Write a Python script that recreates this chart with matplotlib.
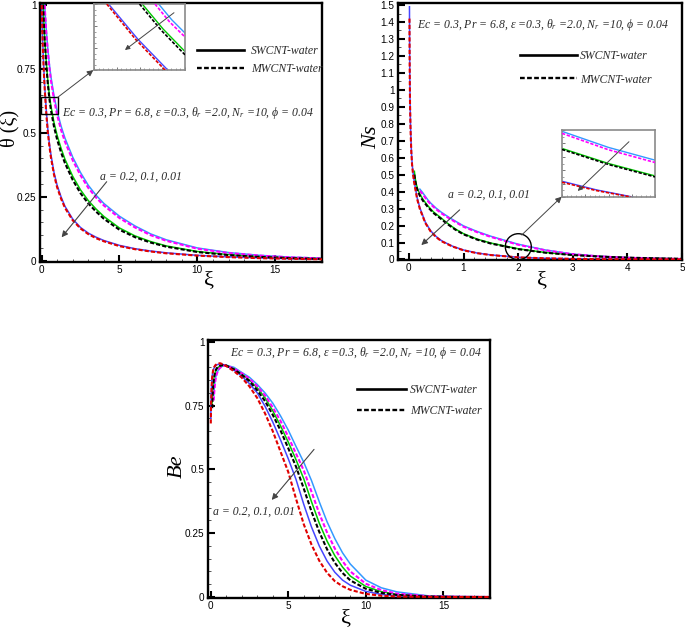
import matplotlib
matplotlib.use('Agg')
import matplotlib.pyplot as plt
from matplotlib.ticker import MultipleLocator, FuncFormatter
from matplotlib.lines import Line2D
from matplotlib.patches import Rectangle, Ellipse
from matplotlib.font_manager import FontProperties

plt.rcParams['font.family'] = ['Liberation Sans', 'DejaVu Sans']
plt.rcParams['mathtext.fontset'] = 'custom'
plt.rcParams['mathtext.rm'] = 'Liberation Serif'
plt.rcParams['mathtext.it'] = 'Liberation Serif:italic'
SERIF = ['Liberation Serif', 'DejaVu Serif']

# ---------------- colours / series names ----------------
series = ['a=0.2 SWCNT', 'a=0.2 MWCNT', 'a=0.1 SWCNT', 'a=0.1 MWCNT', 'a=0.01 SWCNT', 'a=0.01 MWCNT']
colors = ['#3399ff', '#ff00ff', '#00c800', '#000000', '#4646ff', '#e00000']
dashed = [False, True, False, True, False, True]

# ---------------- theta(xi) ----------------
th_grid = [0.3, 0.4, 0.5, 0.6, 0.8, 1.0, 1.25, 1.5, 2, 2.5, 3, 3.5, 4, 5, 6, 7, 8, 10, 12, 14, 16, 18]
th_xi_a02 = [0.2, 0.25] + th_grid
th_xi_a01 = [0.1, 0.15, 0.2] + th_grid
th_xi_a001 = [0.01, 0.05, 0.1, 0.15, 0.2] + th_grid
th_sw_a02 = [1.0, 0.95, 0.905, 0.83, 0.77, 0.72, 0.645, 0.585, 0.527, 0.48, 0.405, 0.345, 0.295, 0.256,
             0.224, 0.174, 0.136, 0.105, 0.082, 0.05, 0.032, 0.021, 0.014, 0.01]
th_mw_a02 = [1.0, 0.945, 0.895, 0.818, 0.757, 0.706, 0.63, 0.57, 0.512, 0.466, 0.393, 0.334, 0.285, 0.247,
             0.216, 0.167, 0.13, 0.1, 0.078, 0.047, 0.03, 0.02, 0.013, 0.009]
th_sw_a01 = [1.0, 0.93, 0.87, 0.78, 0.705, 0.648, 0.605, 0.54, 0.49, 0.44, 0.397, 0.33, 0.277, 0.235, 0.202,
             0.173, 0.128, 0.097, 0.075, 0.058, 0.036, 0.024, 0.016, 0.011, 0.008]
th_mw_a01 = [1.0, 0.925, 0.862, 0.77, 0.693, 0.635, 0.59, 0.524, 0.474, 0.424, 0.382, 0.316, 0.264, 0.224,
             0.192, 0.164, 0.121, 0.092, 0.071, 0.055, 0.034, 0.022, 0.015, 0.01, 0.007]
th_sw_a001 = [1.0, 0.9, 0.815, 0.745, 0.685, 0.59, 0.515, 0.46, 0.415, 0.345, 0.295, 0.25, 0.213, 0.163,
              0.13, 0.108, 0.092, 0.079, 0.06, 0.047, 0.038, 0.031, 0.021, 0.015, 0.011, 0.008, 0.006]
th_mw_a001 = [1.0, 0.892, 0.803, 0.733, 0.673, 0.578, 0.503, 0.449, 0.405, 0.336, 0.287, 0.243, 0.207, 0.158,
              0.126, 0.104, 0.088, 0.076, 0.057, 0.045, 0.036, 0.029, 0.02, 0.014, 0.01, 0.0075, 0.0055]

# theta inset (zoomed view)
thi_xi_a02s = [0.542, 0.571, 0.600]; thi_a02s = [0.640, 0.6256, 0.6136]
thi_xi_a02m = [0.534, 0.566, 0.600]; thi_a02m = [0.640, 0.6238, 0.610]
thi_xi_a01s = [0.506, 0.552, 0.600]; thi_a01s = [0.640, 0.6172, 0.5968]
thi_xi_a01m = [0.500, 0.548, 0.600]; thi_a01m = [0.640, 0.616, 0.5938]
thi_xi_a001s = [0.432, 0.496, 0.562]; thi_a001s = [0.640, 0.6082, 0.580]
thi_xi_a001m = [0.428, 0.492, 0.556]; thi_a001m = [0.640, 0.6076, 0.580]

# ---------------- Ns ----------------
ns_xi_a02 = [0.2, 0.25, 0.3, 0.35, 0.4, 0.5, 0.6, 0.75, 1.0, 1.25, 1.5, 2.0, 2.5, 3.0, 3.5, 4.0, 4.5, 5.0]
ns_sw_a02 = [0.415, 0.395, 0.372, 0.35, 0.332, 0.302, 0.277, 0.245, 0.198, 0.165, 0.137, 0.09, 0.056, 0.032,
             0.019, 0.011, 0.006, 0.003]
ns_mw_a02 = [0.405, 0.386, 0.364, 0.343, 0.325, 0.296, 0.271, 0.24, 0.193, 0.161, 0.133, 0.087, 0.054, 0.031,
             0.018, 0.01, 0.006, 0.003]
ns_xi_a01 = [0.1, 0.11, 0.13, 0.16, 0.2, 0.26, 0.35, 0.45, 0.57, 0.7, 0.85, 1.0, 1.25, 1.5, 2.0, 2.5, 3.0,
             3.5, 4.0, 4.5, 5.0]
ns_sw_a01 = [0.52, 0.49, 0.45, 0.415, 0.385, 0.353, 0.315, 0.28, 0.25, 0.215, 0.18, 0.152, 0.12, 0.097,
             0.063, 0.041, 0.027, 0.018, 0.011, 0.007, 0.004]
ns_mw_a01 = [0.50, 0.475, 0.44, 0.405, 0.376, 0.345, 0.308, 0.274, 0.244, 0.21, 0.176, 0.148, 0.117, 0.094,
             0.061, 0.04, 0.026, 0.017, 0.011, 0.007, 0.004]
ns_xi_a001 = [0.01, 0.012, 0.015, 0.02, 0.03, 0.045, 0.06, 0.08, 0.1, 0.15, 0.2, 0.3, 0.4, 0.5, 0.6, 0.8,
              1.0, 1.25, 1.5, 2.0, 2.5, 3.0, 3.5, 4.0, 4.5, 5.0]
ns_sw_a001 = [1.49, 1.3, 1.12, 0.95, 0.78, 0.64, 0.56, 0.5, 0.455, 0.365, 0.305, 0.22, 0.168, 0.135, 0.11,
              0.078, 0.056, 0.038, 0.027, 0.013, 0.007, 0.004, 0.002, 0.001, 0.0005, 0.0002]
ns_mw_a001 = [1.42, 1.25, 1.08, 0.92, 0.76, 0.625, 0.548, 0.49, 0.445, 0.357, 0.298, 0.215, 0.164, 0.131,
              0.107, 0.076, 0.054, 0.037, 0.026, 0.0125, 0.0068, 0.0038, 0.002, 0.001, 0.0005, 0.0002]

# Ns inset (zoomed view)
nsi_xi = [1.8, 2.0, 2.2]
nsi_a02s = [0.098, 0.074, 0.055]
nsi_a02m = [0.095, 0.0705, 0.0515]
nsi_a01s = [0.0725, 0.050, 0.0315]
nsi_a01m = [0.071, 0.0485, 0.030]
nsi_xi_a001s = [1.8, 1.95, 2.104]; nsi_a001s = [0.0235, 0.0105, 0.0]
nsi_xi_a001m = [1.8, 1.945, 2.096]; nsi_a001m = [0.022, 0.0098, 0.0]

# ---------------- Be ----------------
be_grid = [1.0, 1.5, 2, 2.5, 3, 3.5, 4, 4.5, 5, 5.5, 6, 6.5, 7, 7.5, 8, 8.5, 9, 10, 11, 12, 14, 16, 18]
be_xi_a02 = [0.2, 0.23, 0.27, 0.32, 0.4, 0.5, 0.6, 0.8] + be_grid
be_xi_a01 = [0.1, 0.13, 0.17, 0.22, 0.3, 0.4, 0.6, 0.8] + be_grid
be_xi_a001 = [0.01, 0.03, 0.06, 0.1, 0.15, 0.2, 0.3, 0.4, 0.6, 0.8] + be_grid
be_sw_a02 = [0.79, 0.815, 0.84, 0.86, 0.878, 0.89, 0.898, 0.906,
             0.908, 0.9, 0.88, 0.861, 0.833, 0.80, 0.76, 0.71, 0.654, 0.59, 0.528, 0.456, 0.373, 0.295,
             0.229, 0.173, 0.129, 0.066, 0.036, 0.02, 0.0047, 0.0015, 0.0004]
be_mw_a02 = [0.77, 0.80, 0.83, 0.855, 0.875, 0.89, 0.898, 0.906,
             0.907, 0.895, 0.877, 0.855, 0.826, 0.79, 0.743, 0.69, 0.628, 0.562, 0.496, 0.412, 0.327, 0.253,
             0.19, 0.14, 0.1, 0.052, 0.027, 0.013, 0.003, 0.001, 0.0002]
be_sw_a01 = [0.76, 0.80, 0.835, 0.86, 0.882, 0.895, 0.905, 0.908,
             0.908, 0.894, 0.874, 0.85, 0.82, 0.781, 0.73, 0.671, 0.607, 0.538, 0.463, 0.373, 0.289, 0.219,
             0.162, 0.117, 0.082, 0.041, 0.021, 0.01, 0.002, 0.0006, 0.0001]
be_mw_a01 = [0.74, 0.79, 0.83, 0.86, 0.885, 0.897, 0.906, 0.909,
             0.907, 0.892, 0.871, 0.846, 0.81, 0.768, 0.714, 0.653, 0.583, 0.511, 0.425, 0.335, 0.255, 0.187,
             0.134, 0.094, 0.065, 0.032, 0.016, 0.008, 0.0017, 0.0004, 0.0001]
be_sw_a001 = [0.70, 0.77, 0.83, 0.865, 0.885, 0.895, 0.905, 0.91, 0.913, 0.911,
              0.906, 0.889, 0.866, 0.836, 0.80, 0.748, 0.686, 0.616, 0.542, 0.461, 0.363, 0.274, 0.20,
              0.141, 0.097, 0.066, 0.046, 0.022, 0.01, 0.0045, 0.001, 0.0002, 0.0]
be_mw_a001 = [0.68, 0.76, 0.82, 0.86, 0.885, 0.898, 0.908, 0.913, 0.916, 0.912,
              0.905, 0.885, 0.86, 0.825, 0.78, 0.72, 0.65, 0.57, 0.49, 0.385, 0.285, 0.205, 0.142,
              0.095, 0.062, 0.042, 0.028, 0.012, 0.005, 0.002, 0.0005, 0.0001, 0.0]

param_text = 'Ec = 0.3, Pr = 6.8, \u03b5 =0.3, \u03b8$_r$ =2.0, N$_r$ =10, \u03d5 = 0.04'
a_text = 'a = 0.2, 0.1, 0.01'
legend_labels = ['SWCNT-water', 'MWCNT-water']

# ---------------- helpers ----------------
fmt = FuncFormatter(lambda v, p: f'{v:g}')
itfont = FontProperties(family=SERIF, style='italic', size=8.5)
TXT = '#2a2a2a'


def style_axes(ax, xmaj, xmin, ymaj, ymin):
    for s in ax.spines.values():
        s.set_linewidth(1.7)
    ax.xaxis.set_major_locator(MultipleLocator(xmaj))
    ax.xaxis.set_minor_locator(MultipleLocator(xmin))
    ax.yaxis.set_major_locator(MultipleLocator(ymaj))
    ax.yaxis.set_minor_locator(MultipleLocator(ymin))
    ax.xaxis.set_major_formatter(fmt)
    ax.yaxis.set_major_formatter(fmt)
    ax.tick_params(which='both', direction='in', top=False, right=False, labelsize=7.2, pad=2.5)
    ax.tick_params(which='major', length=5, width=1.5)
    ax.tick_params(which='minor', length=2.5, width=0.7, color='#555555')


def draw_curves(ax, xs, ys, lw_s=1.1, lw_d=1.5):
    order = [0, 2, 4, 1, 3, 5]
    for i in order:
        if dashed[i]:
            ax.plot(xs[i], ys[i], color=colors[i], lw=lw_d, ls=(0, (2, 1)), zorder=3)
        else:
            ax.plot(xs[i], ys[i], color=colors[i], lw=lw_s, ls='-', zorder=2)


def add_legend(ax, x, y, hlen, tpad, lspace):
    h_sw = Line2D([], [], color='k', lw=1.9, ls='-')
    h_mw = Line2D([], [], color='k', lw=1.7, ls=(0, (2, 1)))
    leg = ax.legend([h_sw, h_mw], legend_labels, loc='upper left', bbox_to_anchor=(x, y),
                    frameon=False, borderpad=0, borderaxespad=0, handlelength=hlen,
                    handletextpad=tpad, labelspacing=lspace, prop=itfont)
    for t in leg.get_texts():
        t.set_color(TXT)


def arrow(ax, tail, head, lw=0.8, ms=9, color='#444444'):
    ax.annotate('', xy=head, xytext=tail, xycoords='axes fraction', textcoords='axes fraction',
                arrowprops=dict(arrowstyle='-|>', color=color, lw=lw, mutation_scale=ms,
                                shrinkA=0, shrinkB=0), zorder=6)


def style_inset(ax):
    for s in ax.spines.values():
        s.set_linewidth(1.2)
        s.set_color('#8a8a8a')
    ax.tick_params(which='both', direction='in', top=False, right=False, color='#777777',
                   labelbottom=False, labelleft=False)
    ax.tick_params(which='major', length=2.5, width=0.7)
    ax.tick_params(which='minor', length=1.5, width=0.5)
    ax.set_facecolor('white')


W, H = 685, 630
fig = plt.figure(figsize=(6.85, 6.3), dpi=100)


def axes_px(l, t, r, b):
    return fig.add_axes([l / W, 1 - b / H, (r - l) / W, (b - t) / H])


# ================= Panel 1: theta =================
ax1 = axes_px(40, 3, 322, 262)
draw_curves(ax1, [th_xi_a02, th_xi_a02, th_xi_a01, th_xi_a01, th_xi_a001, th_xi_a001],
            [th_sw_a02, th_mw_a02, th_sw_a01, th_mw_a01, th_sw_a001, th_mw_a001])
ax1.set_xlim(-0.1, 18)
ax1.set_ylim(-0.005, 1.008)
style_axes(ax1, 5, 1, 0.25, 0.05)
ax1.text(-0.108, 0.517, '\u03b8 (\u03be)', transform=ax1.transAxes, rotation=90, ha='center',
         va='center', family=SERIF, fontsize=14.5)
ax1.text(0.60, -0.073, '\u03be', transform=ax1.transAxes, ha='center', va='center', family=SERIF,
         fontsize=16)
ax1.text(0.078, 0.575, param_text, transform=ax1.transAxes, ha='left', va='center',
         fontproperties=itfont, color=TXT)
ax1.text(0.213, 0.329, a_text, transform=ax1.transAxes, ha='left', va='center',
         fontproperties=itfont, color=TXT)
arrow(ax1, (0.2365, 0.31), (0.0766, 0.0954))
add_legend(ax1, 0.557, 0.838, 4.0, 0.55, 0.55)
ax1.add_patch(Rectangle((0.0035, 0.571), 0.0595, 0.065, transform=ax1.transAxes, fill=False,
                        ec='k', lw=1.0, zorder=6))
arrow(ax1, (0.063, 0.636), (0.189, 0.741), lw=0.7, ms=9)

ins1 = axes_px(94, 4, 185, 70)
draw_curves(ins1, [thi_xi_a02s, thi_xi_a02m, thi_xi_a01s, thi_xi_a01m, thi_xi_a001s, thi_xi_a001m],
            [thi_a02s, thi_a02m, thi_a01s, thi_a01m, thi_a001s, thi_a001m], lw_s=1.0, lw_d=1.2)
ins1.set_xlim(0.4, 0.6)
ins1.set_ylim(0.58, 0.64)
ins1.xaxis.set_major_locator(MultipleLocator(0.05))
ins1.xaxis.set_minor_locator(MultipleLocator(0.01))
ins1.yaxis.set_major_locator(MultipleLocator(0.02))
ins1.yaxis.set_minor_locator(MultipleLocator(0.005))
style_inset(ins1)
arrow(ins1, (0.879, 0.868), (0.34, 0.303), lw=0.7, ms=7)

# ================= Panel 2: Ns =================
ax2 = axes_px(398, 3, 682, 260)
draw_curves(ax2, [ns_xi_a02, ns_xi_a02, ns_xi_a01, ns_xi_a01, ns_xi_a001, ns_xi_a001],
            [ns_sw_a02, ns_mw_a02, ns_sw_a01, ns_mw_a01, ns_sw_a001, ns_mw_a001])
ax2.set_xlim(-0.2, 5)
ax2.set_ylim(-0.003, 1.512)
style_axes(ax2, 1, 0.2, 0.1, 0.05)
ax2.text(-0.093, 0.479, 'Ns', transform=ax2.transAxes, rotation=90, ha='center', va='center',
         family=SERIF, style='italic', fontsize=16)
ax2.text(0.506, -0.078, '\u03be', transform=ax2.transAxes, ha='center', va='center', family=SERIF,
         fontsize=16)
ax2.text(0.067, 0.914, param_text, transform=ax2.transAxes, ha='left', va='center',
         fontproperties=itfont, color=TXT)
ax2.text(0.176, 0.253, a_text, transform=ax2.transAxes, ha='left', va='center',
         fontproperties=itfont, color=TXT)
arrow(ax2, (0.217, 0.195), (0.082, 0.058))
add_legend(ax2, 0.43, 0.818, 4.8, 0.25, 1.0)
ax2.add_patch(Ellipse((0.4236, 0.0518), 0.0915, 0.101, transform=ax2.transAxes, fill=False,
                      ec='k', lw=1.0, zorder=6))
arrow(ax2, (0.4356, 0.0973), (0.5764, 0.2463), lw=0.7, ms=9)

ins2 = axes_px(562, 130, 655, 197)
draw_curves(ins2, [nsi_xi, nsi_xi, nsi_xi, nsi_xi, nsi_xi_a001s, nsi_xi_a001m],
            [nsi_a02s, nsi_a02m, nsi_a01s, nsi_a01m, nsi_a001s, nsi_a001m], lw_s=1.0, lw_d=1.2)
ins2.set_xlim(1.8, 2.2)
ins2.set_ylim(0.0, 0.1)
ins2.xaxis.set_major_locator(MultipleLocator(0.1))
ins2.xaxis.set_minor_locator(MultipleLocator(0.02))
ins2.yaxis.set_major_locator(MultipleLocator(0.02))
ins2.yaxis.set_minor_locator(MultipleLocator(0.01))
style_inset(ins2)
arrow(ins2, (0.72, 0.825), (0.169, 0.09), lw=0.7, ms=7)

# ================= Panel 3: Be =================
ax3 = axes_px(208, 340, 490, 598)
draw_curves(ax3, [be_xi_a02, be_xi_a02, be_xi_a01, be_xi_a01, be_xi_a001, be_xi_a001],
            [be_sw_a02, be_mw_a02, be_sw_a01, be_mw_a01, be_sw_a001, be_mw_a001])
ax3.set_xlim(-0.17, 18)
ax3.set_ylim(-0.004, 1.007)
style_axes(ax3, 5, 1, 0.25, 0.05)
ax3.text(-0.108, 0.512, 'Be', transform=ax3.transAxes, rotation=90, ha='center', va='center',
         family=SERIF, style='italic', fontsize=16)
ax3.text(0.491, -0.078, '\u03be', transform=ax3.transAxes, ha='center', va='center', family=SERIF,
         fontsize=16)
ax3.text(0.078, 0.95, param_text, transform=ax3.transAxes, ha='left', va='center',
         fontproperties=itfont, color=TXT)
ax3.text(0.018, 0.334, a_text, transform=ax3.transAxes, ha='left', va='center',
         fontproperties=itfont, color=TXT)
arrow(ax3, (0.376, 0.576), (0.226, 0.38))
add_legend(ax3, 0.528, 0.83, 4.2, 0.3, 0.75)

fig.savefig('out.png', dpi=100)
